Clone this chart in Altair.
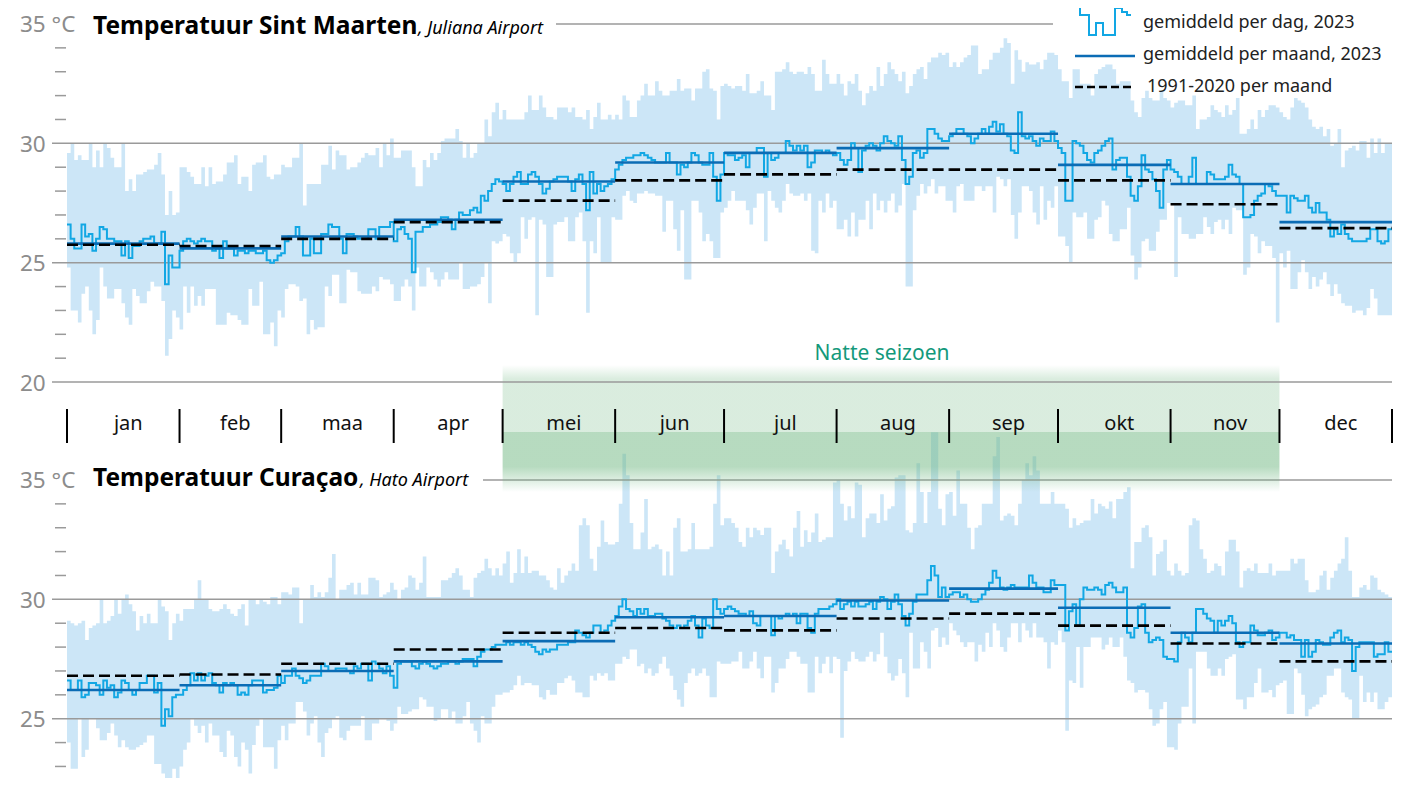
import altair as alt
import pandas as pd

FONT = "Noto Sans"

months = ["jan", "feb", "maa", "apr", "mei", "jun", "jul", "aug", "sep", "okt", "nov", "dec"]
month_lengths = [31, 28, 31, 30, 31, 30, 31, 31, 30, 31, 30, 31]
wet_season = ("mei", "nov")

# ---------------- Sint Maarten, Juliana Airport (2023, daily) ----------------
sxm_mean = [
    26.6, 26.0, 25.6, 25.6, 26.6, 26.1, 26.2, 25.5, 26.0, 26.5, 26.4, 26.0, 26.0, 25.9, 25.9, 25.3, 25.9, 25.2, 25.7, 25.7, 25.9, 26.0, 26.0, 26.1, 25.8, 25.8, 26.3, 24.1, 25.3, 24.8, 24.8,
    25.5, 25.9, 26.0, 25.9, 25.8, 25.9, 26.0, 25.9, 25.9, 25.5, 25.6, 25.2, 25.9, 25.6, 25.6, 25.3, 25.5, 25.5, 25.4, 25.5, 25.5, 25.4, 25.4, 25.5, 25.1, 25.0, 25.1, 25.3,
    25.4, 25.9, 26.1, 26.1, 26.5, 26.1, 25.3, 25.3, 26.0, 25.4, 25.4, 26.2, 26.2, 26.6, 26.5, 26.5, 26.0, 25.4, 26.2, 26.2, 26.1, 26.0, 26.0, 26.0, 26.4, 26.4, 26.0, 26.5, 26.5, 26.5, 26.7,
    25.9, 26.4, 26.5, 26.2, 26.0, 24.6, 26.3, 26.3, 26.5, 26.5, 26.6, 26.6, 26.7, 26.9, 26.9, 26.8, 26.4, 26.8, 27.1, 27.0, 27.0, 27.2, 27.3, 27.1, 27.8, 27.6, 28.0, 28.3, 28.5, 28.4,
    28.3, 28.0, 28.3, 28.6, 28.8, 28.3, 28.3, 28.7, 28.8, 28.6, 28.3, 27.9, 28.1, 28.4, 28.5, 28.6, 28.6, 28.6, 28.4, 28.0, 28.5, 28.7, 28.3, 27.2, 28.8, 27.9, 28.3, 28.0, 28.2, 28.3, 28.5,
    28.9, 29.1, 29.3, 29.4, 29.4, 29.5, 29.5, 29.6, 29.5, 29.4, 29.3, 29.2, 29.2, 29.2, 29.6, 29.2, 29.2, 28.7, 29.1, 29.0, 29.2, 29.6, 29.5, 29.2, 29.1, 29.1, 29.6, 28.6, 27.6, 28.7,
    29.6, 29.5, 29.5, 29.3, 29.4, 29.5, 29.0, 29.6, 29.6, 29.8, 29.8, 28.6, 29.6, 29.3, 29.4, 29.6, 29.6, 30.1, 29.9, 29.7, 29.9, 29.7, 29.9, 29.0, 29.2, 29.7, 29.7, 29.6, 29.7, 29.6, 29.5,
    29.6, 29.3, 29.1, 29.3, 30.0, 29.8, 28.8, 29.7, 29.9, 30.0, 29.9, 29.7, 30.0, 30.3, 30.1, 30.0, 29.9, 30.3, 29.3, 28.3, 28.6, 29.6, 29.7, 29.4, 29.6, 30.6, 30.6, 30.4, 30.2, 30.1, 30.1,
    30.3, 30.4, 30.6, 30.6, 30.4, 30.3, 30.0, 30.2, 30.4, 30.6, 30.4, 30.7, 30.9, 30.5, 30.8, 30.4, 30.3, 29.7, 29.6, 31.3, 30.3, 30.2, 30.3, 30.1, 29.9, 30.2, 30.1, 30.1, 30.5, 30.1,
    29.8, 29.6, 27.6, 27.6, 30.1, 30.0, 29.9, 29.6, 29.3, 29.2, 29.6, 29.7, 29.9, 30.1, 30.2, 28.9, 29.3, 29.4, 29.4, 28.6, 27.8, 27.6, 28.2, 29.5, 28.9, 28.8, 28.5, 28.0, 27.3, 28.9, 29.3,
    28.9, 28.8, 28.6, 28.3, 28.3, 28.6, 29.4, 28.3, 28.3, 28.3, 28.8, 28.7, 28.5, 28.5, 28.5, 28.6, 29.1, 28.7, 28.6, 28.3, 26.9, 26.9, 27.0, 27.6, 27.8, 27.9, 28.3, 28.2, 28.0, 27.8,
    27.8, 27.8, 27.1, 27.8, 27.7, 27.6, 27.6, 27.8, 27.3, 27.1, 27.5, 27.1, 27.1, 26.8, 26.1, 26.4, 26.2, 26.6, 26.2, 26.0, 25.9, 25.9, 25.9, 25.9, 26.0, 26.4, 26.4, 25.9, 25.8, 25.9, 26.4,
]
sxm_max = [
    29.6, 30.0, 29.3, 29.5, 29.3, 29.3, 30.0, 29.0, 29.7, 29.0, 30.0, 29.8, 29.4, 29.0, 29.0, 30.0, 28.0, 28.5, 28.0, 28.7, 28.7, 28.8, 28.9, 28.9, 29.1, 29.6, 28.7, 27.0, 28.0, 27.0, 27.1,
    29.0, 29.0, 28.8, 28.6, 28.3, 28.3, 29.0, 28.2, 29.0, 28.3, 28.4, 28.4, 28.7, 29.2, 29.2, 29.5, 28.3, 28.6, 28.6, 28.0, 29.1, 29.2, 29.2, 29.5, 28.6, 28.5, 28.7, 28.7,
    29.1, 29.0, 29.0, 29.4, 29.4, 30.0, 27.4, 28.3, 28.3, 28.3, 28.3, 29.1, 29.1, 29.9, 28.9, 29.7, 29.5, 29.5, 28.9, 29.0, 29.0, 29.2, 29.4, 29.6, 29.5, 29.5, 29.8, 29.0, 30.0, 29.5, 30.2,
    29.4, 29.4, 29.7, 29.7, 29.7, 29.0, 28.2, 28.2, 29.3, 29.0, 29.6, 29.3, 29.6, 30.1, 30.2, 30.2, 30.2, 30.6, 30.1, 29.4, 30.0, 29.4, 29.6, 30.0, 30.0, 31.0, 30.3, 31.3, 31.7, 31.0,
    31.4, 31.0, 31.0, 31.0, 31.0, 31.0, 31.3, 32.0, 31.4, 31.4, 32.0, 31.5, 31.1, 31.1, 31.0, 31.5, 31.5, 31.5, 31.3, 31.5, 31.1, 31.1, 31.0, 31.4, 30.6, 31.1, 31.7, 31.0, 31.0, 31.2, 31.0,
    31.2, 31.0, 32.0, 31.8, 31.1, 31.1, 31.8, 32.0, 32.5, 32.0, 32.0, 32.6, 32.2, 32.0, 32.0, 32.2, 32.2, 32.7, 32.2, 32.3, 32.3, 31.8, 32.3, 32.3, 33.0, 33.1, 32.3, 32.2, 31.0, 32.4,
    32.5, 32.4, 32.3, 32.4, 32.4, 32.2, 32.9, 32.1, 32.1, 32.2, 32.6, 32.0, 32.0, 31.4, 33.0, 33.0, 33.1, 33.4, 33.0, 32.9, 33.0, 33.0, 32.9, 33.2, 32.9, 32.2, 32.2, 33.5, 32.9, 32.5, 32.5,
    32.9, 32.5, 32.0, 32.6, 32.5, 32.9, 32.2, 31.6, 32.1, 32.4, 32.2, 33.2, 32.4, 32.9, 33.4, 33.1, 32.9, 32.6, 33.0, 32.1, 32.4, 32.9, 33.1, 33.2, 32.7, 33.4, 33.6, 33.6, 33.8, 33.7, 33.8,
    33.2, 33.4, 33.2, 33.4, 33.6, 33.7, 34.1, 34.1, 32.9, 33.1, 33.1, 33.5, 33.8, 33.8, 34.0, 34.4, 34.2, 32.5, 33.9, 33.5, 33.0, 33.4, 33.3, 33.3, 33.4, 33.1, 33.5, 33.8, 33.8, 33.7,
    33.1, 32.6, 32.6, 31.9, 33.1, 33.1, 32.5, 32.5, 32.5, 32.0, 32.9, 33.1, 33.2, 33.3, 33.3, 33.1, 32.5, 32.6, 32.6, 32.6, 31.8, 31.3, 31.1, 31.9, 32.2, 31.9, 31.8, 31.8, 32.2, 31.9, 31.8,
    31.5, 31.7, 31.8, 31.8, 31.6, 31.6, 32.0, 30.6, 31.0, 31.0, 31.1, 31.6, 31.4, 31.3, 31.1, 31.6, 31.2, 31.4, 31.9, 30.4, 30.4, 30.6, 31.0, 30.6, 31.4, 31.1, 31.4, 31.6, 31.6, 31.5,
    31.3, 31.1, 31.0, 31.5, 31.9, 31.8, 31.7, 31.5, 31.0, 30.7, 30.6, 30.7, 30.3, 30.6, 29.9, 30.0, 30.6, 29.0, 29.7, 29.8, 29.9, 29.7, 30.1, 30.1, 29.4, 30.2, 29.6, 30.2, 29.6, 30.0, 30.0,
]
sxm_min = [
    24.8, 23.0, 23.0, 22.5, 23.7, 24.0, 23.0, 22.0, 22.6, 24.8, 24.0, 23.5, 23.5, 23.9, 23.9, 23.3, 22.7, 22.4, 23.9, 23.6, 23.3, 23.3, 23.8, 24.2, 24.0, 24.0, 23.4, 21.1, 21.8, 23.0, 22.7,
    22.2, 24.0, 22.9, 24.0, 23.2, 23.6, 23.2, 23.9, 23.9, 23.9, 22.4, 22.4, 22.4, 22.9, 22.8, 22.8, 22.6, 22.4, 22.4, 23.9, 23.2, 23.2, 24.2, 22.0, 22.0, 22.5, 21.5, 23.0,
    22.7, 23.9, 24.1, 24.1, 24.0, 23.4, 23.5, 22.0, 22.6, 22.2, 22.3, 22.3, 24.0, 23.6, 24.5, 24.5, 23.3, 23.3, 24.7, 24.6, 24.6, 23.8, 23.7, 23.7, 23.7, 24.0, 23.8, 24.4, 24.3, 24.3, 24.1,
    23.4, 23.4, 24.0, 24.3, 24.0, 23.0, 24.8, 24.0, 24.0, 24.8, 24.6, 24.3, 24.0, 24.3, 24.6, 24.3, 24.3, 24.3, 25.0, 23.9, 23.9, 24.0, 24.0, 24.1, 24.4, 25.0, 23.3, 25.9, 25.8, 25.9,
    26.2, 26.1, 25.4, 25.0, 25.4, 26.9, 26.0, 26.8, 26.9, 22.8, 26.8, 26.6, 24.4, 24.4, 26.6, 26.7, 26.7, 26.9, 25.9, 25.9, 26.9, 27.1, 25.9, 22.9, 25.9, 25.4, 26.9, 25.0, 25.0, 25.0, 26.9,
    26.8, 26.8, 27.8, 28.0, 27.6, 27.5, 27.9, 27.9, 28.0, 27.9, 27.9, 27.8, 27.8, 26.3, 27.6, 27.6, 26.4, 25.5, 27.2, 24.3, 24.3, 27.6, 27.6, 27.1, 25.9, 26.2, 25.9, 25.2, 25.2, 27.1,
    27.3, 27.6, 28.0, 27.6, 27.6, 27.6, 27.2, 26.6, 27.3, 27.9, 27.9, 25.9, 28.0, 27.6, 27.3, 27.1, 27.6, 28.3, 27.9, 27.8, 27.8, 27.9, 27.6, 27.9, 25.5, 25.4, 27.6, 27.1, 27.9, 27.3, 27.6,
    26.4, 26.4, 26.8, 26.1, 27.1, 26.1, 26.8, 26.8, 27.6, 26.4, 27.9, 27.2, 27.6, 27.1, 27.6, 27.9, 27.1, 27.4, 28.3, 24.0, 24.0, 27.2, 27.8, 28.3, 27.9, 28.2, 28.5, 27.9, 28.2, 28.2, 27.6,
    27.6, 27.1, 28.2, 28.3, 27.6, 27.6, 27.6, 28.2, 28.2, 28.0, 28.2, 28.2, 27.1, 28.6, 28.5, 28.2, 28.5, 27.0, 26.0, 27.1, 28.2, 28.2, 28.0, 27.1, 26.6, 28.2, 26.8, 27.6, 27.3, 28.2,
    26.1, 26.1, 25.7, 25.0, 27.1, 26.9, 26.9, 27.1, 26.0, 26.0, 26.8, 26.9, 27.6, 27.4, 26.2, 25.9, 25.9, 26.4, 26.4, 27.3, 25.3, 24.3, 24.8, 25.9, 26.0, 25.5, 25.5, 26.3, 26.8, 26.8, 27.5,
    27.5, 24.4, 26.9, 26.2, 26.2, 26.0, 26.0, 26.2, 26.2, 26.9, 26.5, 26.2, 26.7, 26.8, 26.4, 26.8, 26.2, 27.3, 27.2, 27.2, 24.5, 24.8, 26.2, 26.1, 25.4, 25.9, 25.7, 25.7, 25.2, 22.5,
    25.4, 24.8, 25.5, 23.9, 23.9, 24.6, 25.1, 24.6, 23.9, 24.4, 24.0, 24.3, 24.6, 24.1, 23.6, 24.1, 23.7, 23.3, 23.2, 23.2, 22.9, 23.0, 23.0, 22.8, 23.1, 23.9, 23.5, 22.8, 22.8, 22.8, 22.8,
]
sxm_month_2023 = [25.8, 25.6, 26.1, 26.8, 28.4, 29.2, 29.6, 29.8, 30.4, 29.1, 28.3, 26.7]
sxm_month_1991_2020 = [25.75, 25.7, 26.0, 26.7, 27.6, 28.45, 28.7, 28.9, 28.9, 28.45, 27.45, 26.45]

# ---------------- Curaçao, Hato Airport (2023, daily) ----------------
cur_mean = [
    26.6, 26.2, 26.2, 26.6, 25.9, 26.0, 26.5, 26.5, 26.4, 26.0, 26.6, 26.3, 26.4, 25.9, 26.1, 26.6, 26.5, 26.2, 26.0, 26.2, 26.5, 26.5, 26.8, 26.8, 26.1, 26.5, 24.7, 25.4, 25.1, 25.9, 26.0,
    26.0, 26.2, 26.4, 26.9, 26.6, 26.9, 26.6, 26.8, 26.9, 26.5, 26.4, 26.1, 26.5, 26.4, 26.5, 26.4, 26.0, 26.1, 26.0, 26.4, 26.6, 26.6, 26.6, 26.1, 26.2, 26.2, 26.3, 26.8,
    26.5, 26.8, 26.8, 27.1, 26.8, 26.7, 26.5, 26.6, 26.8, 26.8, 26.8, 27.3, 27.2, 27.0, 27.0, 27.1, 27.1, 27.1, 27.0, 26.9, 27.2, 27.1, 27.3, 27.3, 26.6, 27.4, 27.3, 27.1, 26.9, 27.2, 26.8,
    26.3, 27.3, 27.4, 27.4, 27.4, 27.2, 27.1, 27.3, 27.4, 27.3, 27.2, 27.1, 27.2, 27.3, 27.3, 27.4, 27.4, 27.3, 27.4, 27.5, 27.5, 27.5, 27.2, 27.6, 27.8, 27.9, 27.9, 28.0, 28.1, 28.1,
    28.1, 28.2, 28.1, 28.2, 28.2, 28.1, 28.2, 28.1, 28.0, 27.8, 27.7, 27.9, 27.8, 27.9, 27.9, 28.1, 28.1, 28.1, 28.2, 28.2, 28.7, 28.6, 28.5, 28.4, 28.6, 28.9, 28.9, 28.6, 28.7, 28.9, 29.1,
    29.3, 29.7, 30.0, 29.6, 29.5, 29.3, 29.6, 29.4, 29.6, 29.3, 29.3, 29.4, 29.4, 29.2, 29.1, 28.9, 28.8, 28.9, 28.8, 28.9, 29.1, 29.3, 28.9, 28.4, 29.2, 28.9, 28.8, 30.0, 29.6, 29.4,
    29.6, 29.7, 29.6, 29.5, 29.4, 29.4, 29.3, 29.5, 29.0, 28.9, 29.3, 29.3, 29.3, 28.5, 29.3, 29.2, 29.3, 29.4, 29.3, 29.4, 29.0, 29.4, 29.4, 28.8, 28.6, 29.4, 29.6, 29.6, 29.6, 29.7, 29.8,
    30.0, 29.6, 29.8, 29.9, 29.7, 29.9, 29.7, 29.7, 29.8, 29.9, 29.6, 29.9, 30.1, 30.0, 29.6, 29.9, 30.2, 29.8, 29.3, 28.9, 29.4, 29.9, 30.2, 30.2, 30.2, 30.8, 31.4, 31.0, 30.1, 30.5, 30.1,
    30.2, 30.3, 30.3, 30.1, 30.2, 30.0, 29.9, 29.9, 30.0, 30.2, 30.4, 30.7, 31.2, 30.9, 30.5, 30.4, 30.5, 30.6, 30.5, 30.5, 30.5, 30.5, 31.0, 30.7, 30.5, 30.5, 30.3, 30.3, 30.8, 30.6,
    30.6, 30.6, 28.7, 29.5, 29.8, 28.9, 30.0, 30.5, 30.4, 30.4, 30.5, 30.4, 30.2, 30.6, 30.7, 30.5, 30.3, 30.3, 30.5, 28.6, 28.4, 28.8, 29.7, 29.8, 28.6, 28.2, 28.3, 28.4, 28.3, 27.6, 27.5,
    27.5, 27.4, 28.2, 28.6, 28.4, 28.2, 28.6, 29.6, 29.6, 29.4, 29.2, 29.1, 28.6, 29.1, 28.9, 29.1, 29.3, 29.0, 28.2, 28.0, 28.2, 28.2, 28.9, 28.7, 28.5, 28.5, 28.6, 28.7, 28.3, 28.4,
    28.6, 28.6, 28.4, 28.5, 28.3, 28.3, 27.6, 28.3, 27.6, 27.8, 28.3, 28.2, 28.1, 28.1, 28.4, 28.6, 28.7, 28.2, 28.4, 28.3, 27.0, 28.0, 28.2, 28.2, 28.2, 28.2, 27.6, 27.7, 27.7, 28.2, 27.8,
]
cur_max = [
    29.1, 29.0, 28.9, 29.0, 29.1, 28.3, 28.8, 28.9, 29.0, 30.0, 29.0, 29.1, 29.3, 30.0, 29.4, 30.0, 30.2, 29.8, 29.5, 28.7, 29.3, 29.0, 29.4, 29.0, 29.0, 30.0, 29.7, 29.5, 28.3, 29.0, 29.4,
    29.1, 29.6, 29.6, 29.6, 30.0, 30.8, 30.0, 30.0, 29.6, 29.5, 29.5, 29.6, 29.8, 29.6, 29.4, 29.3, 29.6, 29.8, 28.9, 30.0, 30.0, 29.8, 30.0, 29.9, 29.8, 30.1, 30.1, 29.8,
    30.3, 30.3, 30.2, 30.5, 30.5, 29.0, 30.0, 30.0, 30.6, 30.1, 30.3, 30.1, 30.3, 30.9, 31.9, 30.0, 30.4, 30.4, 30.6, 30.7, 30.2, 30.7, 30.2, 30.2, 30.9, 30.9, 30.8, 30.1, 30.2, 30.3, 30.7,
    30.4, 30.0, 30.4, 30.5, 31.0, 30.9, 30.4, 30.7, 31.8, 30.1, 30.1, 30.1, 30.1, 30.8, 30.8, 30.9, 31.1, 31.3, 31.0, 30.4, 30.4, 30.1, 30.9, 31.1, 31.2, 31.7, 31.3, 31.0, 31.3, 31.0,
    31.5, 32.0, 30.7, 31.1, 32.1, 31.1, 31.8, 31.1, 31.2, 31.2, 31.0, 31.0, 30.8, 30.5, 30.4, 31.3, 30.7, 31.0, 31.2, 31.5, 31.2, 33.1, 33.4, 33.1, 31.7, 31.2, 32.2, 33.3, 32.4, 32.3, 32.3,
    32.4, 34.0, 36.1, 35.2, 33.2, 32.1, 32.1, 32.8, 34.2, 32.1, 32.2, 32.3, 32.1, 31.0, 32.0, 31.0, 33.0, 33.4, 32.0, 32.0, 32.1, 33.2, 32.1, 32.1, 32.1, 32.1, 32.2, 34.0, 35.2, 33.1,
    33.4, 33.4, 33.2, 33.0, 32.4, 32.2, 33.0, 32.6, 33.0, 32.9, 32.7, 33.0, 33.0, 31.1, 32.0, 32.3, 32.5, 32.1, 31.8, 33.0, 33.7, 32.2, 32.9, 32.4, 32.8, 33.6, 32.4, 32.5, 32.6, 32.6, 34.9,
    35.0, 34.0, 33.3, 33.9, 33.4, 34.9, 34.8, 32.6, 33.4, 33.6, 33.6, 33.2, 34.4, 33.3, 33.8, 33.9, 35.1, 35.2, 35.2, 32.9, 32.8, 33.2, 35.7, 34.5, 33.2, 34.5, 37.0, 37.0, 33.8, 33.1, 34.4,
    34.5, 33.5, 35.4, 34.0, 34.0, 33.0, 32.1, 33.0, 33.1, 34.0, 34.0, 34.0, 36.0, 36.8, 33.3, 33.5, 33.6, 33.5, 33.1, 34.0, 35.0, 35.7, 35.2, 36.0, 35.4, 34.0, 34.0, 34.0, 34.5, 34.0,
    34.0, 34.0, 33.8, 33.0, 33.4, 33.1, 33.2, 33.3, 33.3, 34.2, 33.6, 34.0, 33.9, 33.8, 34.1, 33.4, 34.2, 34.2, 34.5, 34.7, 31.3, 32.4, 32.4, 33.0, 33.1, 32.6, 31.0, 31.9, 32.0, 32.5, 31.2,
    31.0, 31.5, 31.2, 31.0, 31.1, 33.1, 33.4, 33.3, 32.1, 31.7, 31.1, 31.2, 31.5, 31.4, 31.0, 32.0, 32.5, 32.5, 32.0, 30.5, 31.2, 31.3, 31.2, 31.5, 31.1, 31.1, 31.1, 31.5, 31.0, 31.2,
    31.2, 31.2, 31.2, 31.7, 31.5, 31.7, 31.7, 30.8, 30.3, 30.3, 30.4, 31.0, 31.2, 30.4, 30.9, 31.2, 31.5, 31.7, 32.6, 31.2, 30.1, 30.1, 30.5, 30.6, 30.4, 31.0, 30.9, 30.4, 30.3, 30.2, 30.1,
]
cur_min = [
    24.0, 22.9, 22.9, 25.0, 23.4, 23.7, 25.0, 25.0, 24.6, 24.1, 24.1, 24.4, 24.8, 24.3, 23.8, 24.1, 23.8, 23.7, 23.7, 23.8, 23.9, 24.0, 24.3, 24.3, 23.1, 23.1, 22.7, 22.5, 22.0, 22.9, 22.0,
    23.0, 23.7, 24.0, 25.0, 24.7, 24.4, 24.7, 24.0, 24.8, 24.3, 24.3, 23.6, 23.4, 24.5, 24.3, 23.4, 23.0, 24.0, 23.7, 22.7, 23.9, 24.7, 25.0, 23.8, 23.8, 23.8, 22.9, 24.1,
    24.7, 24.1, 24.8, 24.8, 25.7, 25.7, 25.3, 24.3, 24.8, 25.1, 24.0, 23.4, 24.4, 24.6, 25.0, 25.1, 24.2, 24.1, 24.5, 24.7, 24.7, 24.7, 25.1, 24.1, 24.1, 24.8, 24.8, 25.0, 25.0, 24.9, 24.5,
    24.8, 25.5, 25.2, 25.2, 25.3, 25.4, 25.4, 25.9, 25.8, 25.5, 25.5, 24.9, 25.0, 25.4, 25.4, 25.0, 25.3, 24.8, 24.8, 25.1, 25.7, 24.8, 24.5, 24.0, 25.1, 24.8, 24.8, 25.5, 26.0, 26.0,
    26.1, 26.1, 26.2, 26.4, 26.8, 26.4, 26.5, 26.5, 26.4, 26.4, 25.9, 25.8, 26.2, 26.0, 26.0, 26.5, 26.5, 26.7, 26.8, 26.6, 26.1, 26.1, 25.9, 25.9, 26.8, 26.6, 26.9, 26.8, 26.9, 26.6, 26.6,
    27.3, 27.3, 27.6, 27.5, 27.9, 27.9, 27.2, 27.3, 26.9, 27.1, 26.8, 26.9, 27.3, 27.6, 27.1, 26.8, 26.2, 25.8, 25.5, 26.5, 26.9, 27.1, 26.8, 26.9, 27.1, 26.8, 25.9, 25.9, 27.4, 27.3,
    27.3, 27.3, 27.4, 27.4, 27.8, 27.1, 27.1, 27.4, 27.8, 27.1, 26.7, 27.6, 27.6, 26.1, 26.5, 27.1, 27.1, 27.5, 27.8, 27.8, 27.6, 27.3, 27.3, 26.1, 26.1, 27.6, 26.9, 27.3, 27.6, 26.9, 27.6,
    27.5, 24.2, 27.0, 27.4, 27.8, 27.5, 27.4, 27.4, 27.6, 27.8, 27.4, 27.7, 28.6, 27.6, 26.9, 26.6, 26.8, 27.5, 26.9, 25.9, 28.6, 27.1, 27.1, 28.2, 27.8, 27.1, 28.7, 28.8, 28.0, 28.4, 28.1,
    29.0, 28.7, 28.5, 28.2, 28.0, 28.2, 28.2, 27.4, 28.1, 27.8, 28.6, 28.0, 29.0, 28.7, 28.0, 27.8, 28.4, 29.0, 29.0, 28.2, 29.0, 28.7, 28.4, 29.0, 28.4, 28.4, 28.2, 27.1, 28.2, 28.1,
    28.7, 28.2, 24.5, 26.6, 26.5, 28.0, 26.3, 28.0, 28.0, 28.4, 28.4, 28.4, 27.9, 28.1, 28.4, 28.0, 28.0, 28.4, 27.6, 26.6, 26.5, 26.1, 26.2, 26.2, 26.1, 25.4, 24.7, 24.8, 25.4, 25.7, 23.8,
    23.8, 23.7, 24.8, 25.5, 25.5, 27.1, 24.8, 27.8, 27.8, 27.8, 27.1, 26.8, 26.8, 27.1, 26.8, 27.5, 27.6, 27.7, 25.8, 25.8, 25.4, 25.9, 25.9, 26.5, 27.1, 26.1, 26.1, 26.2, 25.9, 26.4,
    26.5, 26.6, 25.2, 25.2, 27.1, 26.9, 26.0, 25.1, 25.4, 25.5, 25.6, 25.9, 26.0, 26.8, 26.8, 27.1, 27.1, 26.1, 25.9, 25.8, 25.0, 25.0, 26.8, 25.7, 26.1, 25.7, 26.1, 25.4, 25.4, 25.7, 25.9,
]
cur_month_2023 = [26.2, 26.4, 27.0, 27.4, 28.25, 29.25, 29.3, 29.95, 30.45, 29.65, 28.6, 28.15]
cur_month_1991_2020 = [26.8, 26.85, 27.3, 27.9, 28.6, 28.8, 28.7, 29.2, 29.4, 28.9, 28.15, 27.4]

for arr in (sxm_mean, sxm_max, sxm_min, cur_mean, cur_max, cur_min):
    assert len(arr) == 365, len(arr)

# ---------------- layout ----------------
W, H = 1325, 770
TOP_DOMAIN = [3.413, 35.670]          # Sint Maarten panel, degC
PANEL_SHIFT = 19.103                  # vertical distance between the two panels, in degC units
BOT_DOMAIN = [TOP_DOMAIN[0] + PANEL_SHIFT, TOP_DOMAIN[1] + PANEL_SHIFT]

BAR = "#cce6f7"
DAILY = "#12a7e4"
MONTH = "#0b6cb5"
GRID = "#9a9a9a"
LABEL_GRAY = "#8c8c8c"
GREEN_TXT = "#14997b"

xsc = alt.Scale(domain=[0, 365], nice=False, zero=False)
ysc_top = alt.Scale(domain=TOP_DOMAIN, nice=False, zero=False)
ysc_bot = alt.Scale(domain=BOT_DOMAIN, nice=False, zero=False)

bounds = [0]
for n in month_lengths:
    bounds.append(bounds[-1] + n)


def daily_frame(mean, lo, hi):
    return pd.DataFrame({
        "day": list(range(len(mean) + 1)),
        "mean": mean + [mean[-1]],
        "lo": lo + [lo[-1]],
        "hi": hi + [hi[-1]],
    })


def month_frame(vals):
    return pd.DataFrame({"start": bounds[:-1], "end": bounds[1:], "v": vals})


def X(f):
    return alt.X(f, scale=xsc, axis=None)


def Y(f, ysc):
    return alt.Y(f, scale=ysc, axis=None)


def one(text):
    return pd.DataFrame({"t": [text]})


def panel_base(df, ysc, grid_vals, tick_vals, label_vals):
    bars = alt.Chart(df).mark_area(interpolate="step-after", color=BAR).encode(
        x=X("day:Q"), y=Y("lo:Q", ysc), y2="hi:Q")
    grid = alt.Chart(pd.DataFrame({"v": grid_vals})).mark_rule(color=GRID, strokeWidth=1.5).encode(
        y=Y("v:Q", ysc), x=alt.value(-15), x2=alt.value(W))
    ticks = alt.Chart(pd.DataFrame({"v": tick_vals})).mark_rule(color=GRID, strokeWidth=1.5).encode(
        y=Y("v:Q", ysc), x=alt.value(-12), x2=alt.value(-1))
    labs = pd.DataFrame({"v": label_vals,
                         "lab": [f"{v} °C" if v == 35 else f"{v}" for v in label_vals]})
    labels = alt.Chart(labs).mark_text(align="left", baseline="middle", fontSize=22.5, font=FONT,
                                       color=LABEL_GRAY, dy=1.5).encode(
        y=Y("v:Q", ysc), x=alt.value(-47), text="lab:N")
    return bars, grid, ticks, labels


def panel_lines(df, m23, mnorm, ysc):
    daily = alt.Chart(df).mark_line(interpolate="step-after", color=DAILY, strokeWidth=2).encode(
        x=X("day:Q"), y=Y("mean:Q", ysc))
    month = alt.Chart(month_frame(m23)).mark_rule(color=MONTH, strokeWidth=2.6).encode(
        x=X("start:Q"), x2="end:Q", y=Y("v:Q", ysc))
    norm = alt.Chart(month_frame(mnorm)).mark_rule(color="black", strokeWidth=2.6,
                                                   strokeDash=[11, 5]).encode(
        x=X("start:Q"), x2="end:Q", y=Y("v:Q", ysc))
    return daily, month, norm


def title(bold, italic, y, italic_x):
    b = alt.Chart(one(bold)).mark_text(align="left", baseline="alphabetic", fontSize=24.5,
                                       fontWeight="bold", font=FONT, color="black").encode(
        x=alt.value(26), y=alt.value(y), text="t:N")
    i = alt.Chart(one(italic)).mark_text(align="left", baseline="alphabetic", fontSize=18,
                                         fontStyle="italic", font=FONT, color="black").encode(
        x=alt.value(italic_x), y=alt.value(y), text="t:N")
    return b, i


def rule35(ysc, x1, x2):
    return alt.Chart(pd.DataFrame({"v": [35]})).mark_rule(color=GRID, strokeWidth=1.5).encode(
        y=Y("v:Q", ysc), x=alt.value(x1), x2=alt.value(x2))


# ---------------- bottom panel: Curaçao ----------------
cur_df = daily_frame(cur_mean, cur_min, cur_max)
b_bars, b_grid, b_ticks, b_labels = panel_base(
    cur_df, ysc_bot, [30, 25], [34, 33, 32, 31, 29, 28, 27, 26, 24, 23], [35, 30, 25])
b_daily, b_month, b_norm = panel_lines(cur_df, cur_month_2023, cur_month_1991_2020, ysc_bot)
b_t1, b_t2 = title("Temperatuur Curaçao", ", Hato Airport", 478, 293)
bottom = alt.layer(b_bars, b_grid, rule35(ysc_bot, 416, W), b_ticks, b_labels, b_t1, b_t2,
                   b_daily, b_month, b_norm)

# ---------------- top panel: Sint Maarten ----------------
sxm_df = daily_frame(sxm_mean, sxm_min, sxm_max)
t_bars, t_grid, t_ticks, t_labels = panel_base(
    sxm_df, ysc_top, [30, 25, 20], [34, 33, 32, 31, 29, 28, 27, 26, 24, 23, 22, 21], [35, 30, 25, 20])
t_daily, t_month, t_norm = panel_lines(sxm_df, sxm_month_2023, sxm_month_1991_2020, ysc_top)
t_t1, t_t2 = title("Temperatuur Sint Maarten", ", Juliana Airport", 25.5, 351)

# wet season band
ws_start = bounds[months.index(wet_season[0])]
ws_end = bounds[months.index(wet_season[1]) + 1]
band_fill = alt.Gradient(
    gradient="linear", x1=0, x2=0, y1=0, y2=1,
    stops=[
        alt.GradientStop(color="rgba(111,183,129,0)", offset=0),
        alt.GradientStop(color="rgba(111,183,129,0.26)", offset=0.11),
        alt.GradientStop(color="rgba(111,183,129,0.26)", offset=0.528),
        alt.GradientStop(color="rgba(111,183,129,0.5)", offset=0.53),
        alt.GradientStop(color="rgba(111,183,129,0.5)", offset=0.8),
        alt.GradientStop(color="rgba(111,183,129,0)", offset=1),
    ])
band = alt.Chart(pd.DataFrame({"s": [ws_start], "e": [ws_end]})).mark_rect(color=band_fill).encode(
    x=X("s:Q"), x2="e:Q", y=alt.value(357), y2=alt.value(484))
band_label = alt.Chart(pd.DataFrame({"m": [(ws_start + ws_end) / 2], "t": ["Natte seizoen"]})).mark_text(
    align="center", baseline="middle", fontSize=21, font=FONT, color=GREEN_TXT, dx=-9).encode(
    x=X("m:Q"), y=alt.value(346), text="t:N")

# month row
mdf = pd.DataFrame({"m": months, "mid": [(a + b) / 2 for a, b in zip(bounds[:-1], bounds[1:])]})
month_text = alt.Chart(mdf).mark_text(align="center", baseline="middle", fontSize=20, font=FONT,
                                      color="#111111", dx=5).encode(
    x=X("mid:Q"), y=alt.value(416), text="m:N")
month_sep = alt.Chart(pd.DataFrame({"b": bounds})).mark_rule(color="black", strokeWidth=2).encode(
    x=X("b:Q"), y=alt.value(401), y2=alt.value(435))

# legend
icon_pts = [(1013, 0), (1013, 7), (1022, 7), (1022, 27), (1029, 27), (1029, 15), (1036, 15),
            (1036, 27), (1048, 27), (1048, 0), (1055, 0), (1055, 4), (1060, 4), (1060, 7), (1064, 7)]
icon_df = pd.DataFrame({"i": list(range(len(icon_pts))),
                        "px": [p[0] for p in icon_pts], "py": [p[1] for p in icon_pts]})
leg_icon = alt.Chart(icon_df).mark_line(color=DAILY, strokeWidth=2).encode(
    x=alt.X("px:Q", scale=None, axis=None), y=alt.Y("py:Q", scale=None, axis=None), order="i:Q")
leg_month = alt.Chart(one("")).mark_rule(color=MONTH, strokeWidth=2.6).encode(
    x=alt.value(1008), x2=alt.value(1068), y=alt.value(48))
leg_norm = alt.Chart(one("")).mark_rule(color="black", strokeWidth=2.6, strokeDash=[8, 4]).encode(
    x=alt.value(1008), x2=alt.value(1068), y=alt.value(79))
leg_texts = []
for txt, yy, xx in [("gemiddeld per dag, 2023", 15, 1076),
                    ("gemiddeld per maand, 2023", 47, 1076),
                    ("1991-2020 per maand", 79, 1080)]:
    leg_texts.append(alt.Chart(one(txt)).mark_text(align="left", baseline="middle", fontSize=18,
                                                   font=FONT, color="#222222").encode(
        x=alt.value(xx), y=alt.value(yy), text="t:N"))

top = alt.layer(t_bars, band, t_grid, rule35(ysc_top, 489, 986), t_ticks, t_labels, t_t1, t_t2,
                month_sep, month_text, band_label, t_daily, t_month, t_norm,
                leg_icon, leg_month, leg_norm, *leg_texts)

chart = alt.layer(bottom, top).resolve_scale(y="independent").properties(
    width=W, height=H,
    padding={"left": 59, "top": 0, "right": 4, "bottom": 0},
    autosize=alt.AutoSizeParams(type="none"),
).configure_view(stroke=None)

chart.save("out.html", embed_options={"renderer": "svg", "actions": False})
